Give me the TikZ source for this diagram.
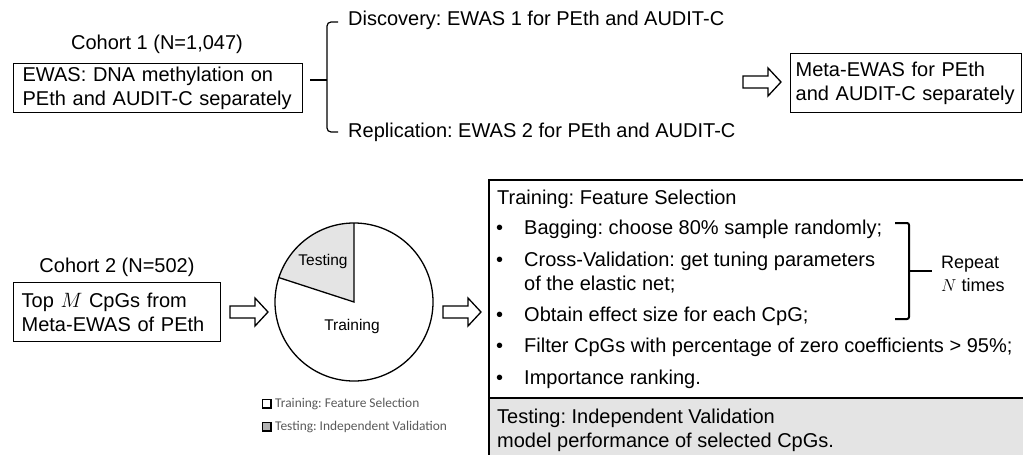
\documentclass[tikz,border=0pt]{standalone}
\usepackage{fontspec}
\setmainfont{Liberation Sans}
\newfontfamily\legendfont{Carlito}
\usetikzlibrary{calc}
\definecolor{lightfill}{HTML}{E4E4E4}
\definecolor{legendgray}{HTML}{595959}
\frenchspacing
\tikzset{
  main/.style={font=\fontsize{20}{24}\selectfont},
  boxed/.style={draw, line width=1.3pt, rectangle, align=left, inner ysep=0pt, main},
  txt/.style={inner sep=0pt, main},
  small/.style={inner sep=0pt, font=\fontsize{15.5}{18}\selectfont},
  rep/.style={inner sep=0pt, font=\fontsize{18}{22}\selectfont},
  legend/.style={inner sep=0pt, font=\legendfont\fontsize{13.4}{16}\selectfont, text=legendgray},
  brace/.style={line width=1.2pt, rounded corners=4pt},
  bracket/.style={line width=2pt, rounded corners=2pt},
  barrow/.pic={\draw[line width=1.3pt, fill=white, line join=miter]
     (0,-6) -- (25,-6) -- (25,-14) -- (38,0) -- (25,14) -- (25,6) -- (0,6) -- cycle;}
}
\begin{document}
\begin{tikzpicture}[x=1pt, y=-1pt]
\useasboundingbox (0,0) rectangle (1023,455);

% ---------- top part ----------
\node[txt] (coh1) at (157,44) {Cohort 1 (N=1,047)};
\node[boxed, anchor=north west, inner xsep=9pt, text width=271pt, minimum height=49pt]
  (ewas) at (13,63) {EWAS: DNA methylation on\\PEth and AUDIT-C separately};

\coordinate (bstub) at (310,80);
\coordinate (bmid) at (327,80);
\coordinate (btop) at (338,22);
\coordinate (bbot) at (338,132);
\draw[brace] (btop) -- (327,22) -- (327,132) -- (bbot);
\draw[line width=1.2pt] (bstub) -- (bmid);

\node[txt, anchor=base west] (disc) at (348,25) {Discovery: EWAS 1 for PEth and AUDIT-C};
\node[txt, anchor=base west] (repl) at (348,137) {Replication: EWAS 2 for PEth and AUDIT-C};

\pic at (743,82) {barrow};

\node[boxed, anchor=north west, inner xsep=5pt, text width=221pt, minimum height=59pt]
  (meta) at (790,53) {Meta-EWAS for PEth\\and AUDIT-C separately};

% ---------- bottom left ----------
\node[txt] (coh2) at (117,267) {Cohort 2 (N=502)};
\node[boxed, anchor=north west, inner xsep=8pt, text width=191pt, minimum height=59pt]
  (top) at (13,282) {Top $M$ CpGs from\\Meta-EWAS of PEth};

\pic at (230,312) {barrow};

% pie
\coordinate (pc) at (354,302);
\fill[lightfill] (pc) -- ++(-90:79) arc[start angle=-90, end angle=-162, radius=79] -- cycle;
\draw[line width=1.3pt] (pc) circle[radius=79];
\draw[line width=1.3pt] ($(pc)+(-90:79)$) -- (pc) -- ($(pc)+(-162:79)$);
\node[small] (ptest) at (323,261) {Testing};
\node[small] (ptrain) at (352,326) {Training};

% legend
\draw[line width=1.6pt, fill=white] (262.5,399.5) rectangle (271,408);
\draw[line width=1.6pt, fill=black!30] (262.5,422.5) rectangle (271,431);
\node[legend, anchor=west] (leg1) at (275,404) {Training: Feature Selection};
\node[legend, anchor=west] (leg2) at (275,427) {Testing: Independent Validation};

\pic at (443,312) {barrow};

% ---------- bottom right ----------
\fill[lightfill] (489,398) rectangle (1030,460);
\draw[line width=1.3pt] (1030,180) -- (489,180) -- (489,460);
\draw[line width=1.3pt] (489,398) -- (1030,398);

\node[txt, anchor=base west] (trh) at (497,204) {Training: Feature Selection};
\node[txt, anchor=base west] (b1) at (496,234) {•};
\node[txt, anchor=base west] (t1) at (524,234) {Bagging: choose 80\% sample randomly;};
\node[txt, anchor=base west] (b2) at (496,266) {•};
\node[txt, anchor=base west] (t2) at (524,266) {Cross-Validation: get tuning parameters};
\node[txt, anchor=base west] (t2b) at (524,290) {of the elastic net;};
\node[txt, anchor=base west] (b3) at (496,321) {•};
\node[txt, anchor=base west] (t3) at (524,321) {Obtain effect size for each CpG;};
\node[txt, anchor=base west] (b4) at (496,352) {•};
\node[txt, anchor=base west] (t4) at (524,352) {Filter CpGs with percentage of zero coefficients > 95\%;};
\node[txt, anchor=base west] (b5) at (496,384) {•};
\node[txt, anchor=base west] (t5) at (524,384) {Importance ranking.};

\coordinate (rtop) at (895,223);
\coordinate (rbot) at (895,319);
\coordinate (rmid) at (909,271);
\coordinate (rstub) at (932,271);
\draw[bracket] (rtop) -- (909,223) -- (909,319) -- (rbot);
\draw[line width=2pt] (rmid) -- (rstub);
\node[rep, anchor=base west] (rep1) at (941,268) {Repeat};
\node[rep, anchor=base west] (rep2) at (941,291) {$N$ times};

\node[txt, anchor=base west] (tsh) at (497,423) {Testing: Independent Validation};
\node[txt, anchor=base west] (tsl) at (497,447) {model performance of selected CpGs.};
\end{tikzpicture}
\end{document}
